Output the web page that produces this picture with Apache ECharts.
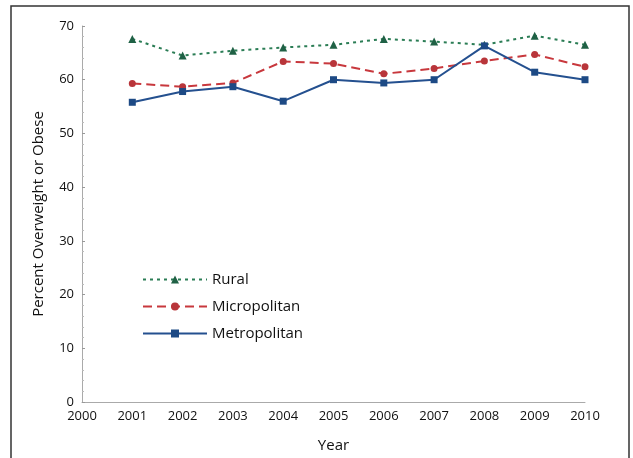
<!DOCTYPE html>
<html>
<head>
<meta charset="utf-8">
<script src="https://cdn.jsdelivr.net/npm/echarts@6/dist/echarts.min.js"></script>
<style>
  html,body{margin:0;padding:0;background:#fff;}
  #chart{width:633px;height:458px;}
</style>
</head>
<body>
<div id="chart"></div>
<script>
const years = [2001, 2002, 2003, 2004, 2005, 2006, 2007, 2008, 2009, 2010];
const rural = [67.6, 64.5, 65.4, 66.0, 66.5, 67.6, 67.1, 66.5, 68.2, 66.5];
const micropolitan = [59.3, 58.7, 59.4, 63.4, 63.0, 61.1, 62.1, 63.5, 64.7, 62.4];
const metropolitan = [55.8, 57.8, 58.7, 56.0, 60.0, 59.4, 60.0, 66.3, 61.4, 60.0];

const pairs = vals => years.map((y, i) => [y, vals[i]]);
const font = 'Open Sans';

const chart = echarts.init(document.getElementById('chart'));
chart.setOption({
  backgroundColor: '#fff',
  animation: false,
  textStyle: { fontFamily: font },
  graphic: [{
    type: 'rect', shape: { x: 11, y: 6, width: 618, height: 470 },
    style: { fill: 'none', stroke: '#333', lineWidth: 1.5 }
  }],
  grid: { left: 82, right: 48, top: 26, bottom: 48 },
  legend: {
    orient: 'vertical', left: 137, top: 267, itemWidth: 64, itemHeight: 10, itemGap: 12,
    textStyle: { fontSize: 15, color: '#111', fontFamily: font },
    data: ['Rural', 'Micropolitan', 'Metropolitan']
  },
  xAxis: {
    type: 'value', min: 2000, max: 2010, interval: 1,
    name: 'Year', nameLocation: 'middle', nameGap: 36,
    nameTextStyle: { fontSize: 15, color: '#111' },
    axisLine: { lineStyle: { color: '#aaa' } },
    axisTick: { show: false },
    splitLine: { show: false },
    axisLabel: { color: '#111', fontSize: 13, margin: 8, formatter: v => String(v) }
  },
  yAxis: {
    type: 'value', min: 0, max: 70, interval: 10,
    name: 'Percent Overweight or Obese', nameLocation: 'middle', nameGap: 36,
    nameTextStyle: { fontSize: 15, color: '#111' },
    axisLine: { show: true, lineStyle: { color: '#aaa' } },
    axisTick: { show: true, inside: true, length: 3, lineStyle: { color: '#999' } },
    minorTick: { show: true, splitNumber: 5, length: 2, lineStyle: { color: '#bbb' } },
    splitLine: { show: false },
    axisLabel: { color: '#111', fontSize: 13, margin: 8 }
  },
  series: [
    {
      name: 'Rural', type: 'line', data: pairs(rural),
      symbol: 'triangle', symbolSize: 8,
      lineStyle: { color: '#2b7d55', width: 2, type: [3, 4] },
      itemStyle: { color: '#1f6145' }
    },
    {
      name: 'Micropolitan', type: 'line', data: pairs(micropolitan),
      symbol: 'circle', symbolSize: 7,
      lineStyle: { color: '#c8383d', width: 2, type: [9, 5] },
      itemStyle: { color: '#b8353a' }
    },
    {
      name: 'Metropolitan', type: 'line', data: pairs(metropolitan),
      symbol: 'rect', symbolSize: 7,
      lineStyle: { color: '#24508f', width: 2 },
      itemStyle: { color: '#1d4a85' }
    }
  ]
});
</script>
</body>
</html>
